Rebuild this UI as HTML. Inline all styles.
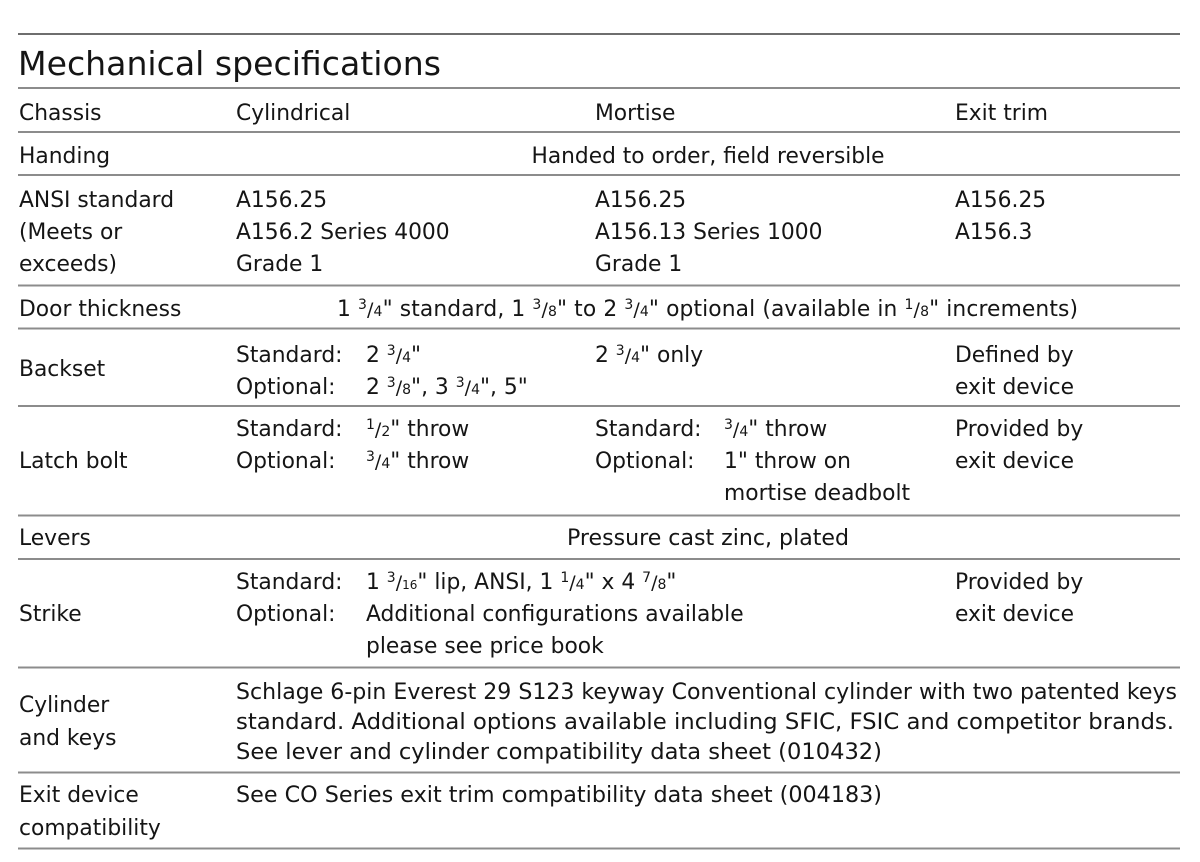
<!DOCTYPE html>
<html>
<head>
<meta charset="utf-8">
<style>
html,body{margin:0;padding:0;background:#fff;}
svg{display:block;}
text{font-family:"DejaVu Sans","Liberation Sans",sans-serif;fill:#151515;}
</style>
</head>
<body>
<svg width="1200" height="862" viewBox="0 0 1200 862" xmlns="http://www.w3.org/2000/svg">
<!-- rules -->
<rect x="18" y="33.2" width="1162" height="1.6" fill="#4a4a4a"/>
<g fill="#8c8c8c">
<rect x="18" y="87" width="1162" height="2"/>
<rect x="18" y="131" width="1162" height="2"/>
<rect x="18" y="174" width="1162" height="2"/>
<rect x="18" y="284.5" width="1162" height="2"/>
<rect x="18" y="327.5" width="1162" height="2"/>
<rect x="18" y="405" width="1162" height="2"/>
<rect x="18" y="514.5" width="1162" height="2"/>
<rect x="18" y="558" width="1162" height="2"/>
<rect x="18" y="666.5" width="1162" height="2"/>
<rect x="18" y="771.5" width="1162" height="2"/>
<rect x="18" y="847.5" width="1162" height="2"/>
</g>

<text x="18" y="75" font-size="33" textLength="423" lengthAdjust="spacingAndGlyphs">Mechanical specifications</text>

<g font-size="21.8">
<!-- Chassis -->
<text x="19" y="120">Chassis</text>
<text x="236" y="120">Cylindrical</text>
<text x="595" y="120">Mortise</text>
<text x="955" y="120">Exit trim</text>

<!-- Handing -->
<text x="19" y="163">Handing</text>
<text x="708" y="163" text-anchor="middle" textLength="353" lengthAdjust="spacingAndGlyphs">Handed to order, field reversible</text>

<!-- ANSI -->
<text x="19" y="207">ANSI standard</text>
<text x="19" y="239">(Meets or</text>
<text x="19" y="271">exceeds)</text>
<text x="236" y="207">A156.25</text>
<text x="236" y="239">A156.2 Series 4000</text>
<text x="236" y="271">Grade 1</text>
<text x="595" y="207">A156.25</text>
<text x="595" y="239">A156.13 Series 1000</text>
<text x="595" y="271">Grade 1</text>
<text x="955" y="207">A156.25</text>
<text x="955" y="239">A156.3</text>

<!-- Door thickness -->
<text x="19" y="316">Door thickness</text>
<text x="337" y="316" textLength="741" lengthAdjust="spacing">1 <tspan font-size="14" dy="-7">3</tspan><tspan font-size="19" dy="7">/</tspan><tspan font-size="14">4</tspan>" standard, 1 <tspan font-size="14" dy="-7">3</tspan><tspan font-size="19" dy="7">/</tspan><tspan font-size="14">8</tspan>" to 2 <tspan font-size="14" dy="-7">3</tspan><tspan font-size="19" dy="7">/</tspan><tspan font-size="14">4</tspan>" optional (available in <tspan font-size="14" dy="-7">1</tspan><tspan font-size="19" dy="7">/</tspan><tspan font-size="14">8</tspan>" increments)</text>

<!-- Backset -->
<text x="19" y="376">Backset</text>
<text x="236" y="362">Standard:</text>
<text x="366" y="362">2 <tspan font-size="14" dy="-7">3</tspan><tspan font-size="19" dy="7">/</tspan><tspan font-size="14">4</tspan>"</text>
<text x="236" y="394">Optional:</text>
<text x="366" y="394">2 <tspan font-size="14" dy="-7">3</tspan><tspan font-size="19" dy="7">/</tspan><tspan font-size="14">8</tspan>", 3 <tspan font-size="14" dy="-7">3</tspan><tspan font-size="19" dy="7">/</tspan><tspan font-size="14">4</tspan>", 5"</text>
<text x="595" y="362">2 <tspan font-size="14" dy="-7">3</tspan><tspan font-size="19" dy="7">/</tspan><tspan font-size="14">4</tspan>" only</text>
<text x="955" y="362">Defined by</text>
<text x="955" y="394">exit device</text>

<!-- Latch bolt -->
<text x="19" y="468">Latch bolt</text>
<text x="236" y="436">Standard:</text>
<text x="366" y="436"><tspan font-size="14" dy="-7">1</tspan><tspan font-size="19" dy="7">/</tspan><tspan font-size="14">2</tspan>" throw</text>
<text x="236" y="468">Optional:</text>
<text x="366" y="468"><tspan font-size="14" dy="-7">3</tspan><tspan font-size="19" dy="7">/</tspan><tspan font-size="14">4</tspan>" throw</text>
<text x="595" y="436">Standard:</text>
<text x="724" y="436"><tspan font-size="14" dy="-7">3</tspan><tspan font-size="19" dy="7">/</tspan><tspan font-size="14">4</tspan>" throw</text>
<text x="595" y="468">Optional:</text>
<text x="724" y="468">1" throw on</text>
<text x="724" y="500">mortise deadbolt</text>
<text x="955" y="436">Provided by</text>
<text x="955" y="468">exit device</text>

<!-- Levers -->
<text x="19" y="545">Levers</text>
<text x="708" y="545" text-anchor="middle" textLength="282" lengthAdjust="spacingAndGlyphs">Pressure cast zinc, plated</text>

<!-- Strike -->
<text x="19" y="621">Strike</text>
<text x="236" y="589">Standard:</text>
<text x="366" y="589">1 <tspan font-size="14" dy="-7">3</tspan><tspan font-size="19" dy="7">/</tspan><tspan font-size="12">16</tspan>" lip, ANSI, 1 <tspan font-size="14" dy="-7">1</tspan><tspan font-size="19" dy="7">/</tspan><tspan font-size="14">4</tspan>" x 4 <tspan font-size="14" dy="-7">7</tspan><tspan font-size="19" dy="7">/</tspan><tspan font-size="14">8</tspan>"</text>
<text x="236" y="621">Optional:</text>
<text x="366" y="621">Additional configurations available</text>
<text x="366" y="653">please see price book</text>
<text x="955" y="589">Provided by</text>
<text x="955" y="621">exit device</text>

<!-- Cylinder and keys -->
<text x="19" y="712">Cylinder</text>
<text x="19" y="745">and keys</text>
<text x="236" y="699" textLength="941" lengthAdjust="spacingAndGlyphs">Schlage 6-pin Everest 29 S123 keyway Conventional cylinder with two patented keys</text>
<text x="236" y="729" textLength="938" lengthAdjust="spacingAndGlyphs">standard. Additional options available including SFIC, FSIC and competitor brands.</text>
<text x="236" y="759" textLength="646" lengthAdjust="spacingAndGlyphs">See lever and cylinder compatibility data sheet (010432)</text>

<!-- Exit device -->
<text x="19" y="802">Exit device</text>
<text x="19" y="835">compatibility</text>
<text x="236" y="802" textLength="646" lengthAdjust="spacingAndGlyphs">See CO Series exit trim compatibility data sheet (004183)</text>
</g>
</svg>
</body>
</html>
